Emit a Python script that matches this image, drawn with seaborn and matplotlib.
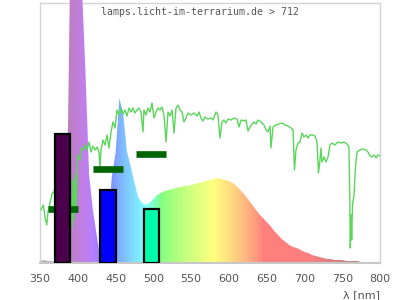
import numpy as np
import pandas as pd
import matplotlib
matplotlib.use("Agg")
import matplotlib.pyplot as plt
from matplotlib.patches import Polygon
import seaborn as sns

# ---------------- data (heights in arbitrary units, 0..263) ----------------
spec_nm = list(range(350, 801, 5))
spec_h = [2, 3, 2, 2, 1, 1, 2, 20, 300, 300,
          300, 285, 195, 88, 53, 28, 3, 0, 30, 86,
          110, 165, 150, 112, 97, 80, 66, 60, 58, 60,
          64, 68, 70, 72, 73, 74, 75, 76, 77, 77,
          78, 79, 80, 81, 82, 83, 84, 85, 84, 83,
          82, 80, 77, 73, 69, 64, 59, 54, 49, 45,
          41, 37, 32, 28, 24, 21, 18, 16, 15, 13,
          11, 10, 8, 7, 6, 5, 4, 4, 3, 3,
          3, 2, 2, 2, 2, 1, 1, 1, 0, 0, 0]

ref_nm = [351.3, 354.4, 356.6, 358.9, 360.6, 363.2, 366.3, 368.5, 371, 379, 387,
          391, 392.4, 393.7, 395, 396.3, 397.6, 399, 400.3, 402.9, 404.3, 406.9,
          409.6, 412.2, 414.9, 417.5, 420.1, 422.8, 425.4, 428.1, 429.4, 430.7,
          433.4, 436, 438.7, 441.3, 444, 446.6, 449.3, 451.9, 454.6, 457.2, 459.9,
          462.5, 465.1, 467.8, 470.4, 473.1, 475.7, 478.4, 481, 483.7, 486.3,
          487.6, 490.3, 492.9, 495.6, 498.2, 500.9, 503.5, 506.2, 508.8, 511.5,
          514.1, 516.8, 519.4, 522, 524.7, 527.4, 530, 532.6, 535.3, 537.9,
          540.6, 543.2, 545.9, 549.9, 553.8, 557.8, 560.4, 563.1, 565.7, 568.4,
          572.4, 576.3, 579, 583, 585.6, 588.2, 590.9, 593.5, 596.2, 598.8,
          602.8, 606.8, 610.7, 613.4, 616, 620, 622.6, 625.3, 627.9, 630.6,
          633.2, 635.9, 638.5, 642.5, 646.5, 649.1, 651.8, 654.4, 655.7, 658.4,
          662.3, 666.3, 670.3, 674.3, 678.2, 682.2, 684.9, 686.8, 688.8, 691.5,
          694.1, 696.8, 699.4, 702.1, 704.7, 707.4, 711.3, 714, 716.6, 718.6,
          720.6, 722, 723.2, 725.9, 728.5, 731.2, 733.8, 736.5, 740.4, 744.4,
          748.4, 752.3, 756.3, 758.9, 760, 760.7, 761.6, 762.5, 763.6, 765.6,
          767.6, 769.6, 773.5, 777.5, 781.5, 784.1, 786.8, 789.4, 792.1, 794.7,
          797.4, 800]
ref_h = [53, 58, 46, 38, 51, 60, 70, 71, 78, 88, 85,
         63, 35, 83, 43, 88, 53, 98, 108, 103, 115, 113,
         118, 113, 121, 111, 117, 113, 116, 111, 95, 113,
         123, 118, 128, 115, 131, 141, 135, 153, 148, 155, 149,
         153, 147, 155, 151, 155, 150, 153, 155, 151, 131,
         153, 148, 155, 151, 160, 145, 151, 155, 153, 156,
         148, 121, 151, 147, 153, 130, 155, 158, 153, 151,
         141, 145, 150, 148, 150, 147, 151, 145, 142, 146,
         144, 145, 143, 151, 148, 125, 141, 143, 140, 144,
         143, 145, 144, 136, 143, 142, 143, 132, 136, 139,
         141, 139, 143, 141, 138, 133, 131, 137, 115, 136,
         138, 139, 140, 138, 137, 135, 133, 93, 113, 120,
         121, 130, 126, 128, 125, 128, 128, 127, 121, 90,
         103, 115, 101, 106, 101, 106, 118, 120, 118, 121,
         120, 121, 119, 116, 68, 15, 48, 23, 58, 68,
         96, 111, 113, 114, 113, 111, 107, 106, 108, 105,
         108, 107]

bar_lo = [370, 430, 488]
bar_hi = [390, 450, 508]
bar_h = [129.5, 73.5, 54.5]
bar_colors = ["#4a004a", "#0000ff", "#00ffaa"]

seg_lo = [360, 420, 477]
seg_hi = [400, 460, 517]
seg_h = [54.5, 94.5, 108.7]

xticks = [350, 400, 450, 500, 550, 600, 650, 700, 750, 800]
title = "lamps.licht-im-terrarium.de > 712"


def wl_color(w, gamma=0.8):
    if w < 380:
        return (0.73, 0.70, 0.72)
    if w < 440:
        r, g, b = -(w - 440) / 60, 0.0, 1.0
    elif w < 490:
        r, g, b = 0.0, (w - 440) / 50, 1.0
    elif w < 510:
        r, g, b = 0.0, 1.0, -(w - 510) / 20
    elif w < 580:
        r, g, b = (w - 510) / 70, 1.0, 0.0
    elif w < 645:
        r, g, b = 1.0, -(w - 645) / 65, 0.0
    else:
        r, g, b = 1.0, 0.0, 0.0
    if w < 420:
        f = 0.3 + 0.7 * (w - 380) / 40
    elif w <= 700:
        f = 1.0
    else:
        f = max(0.3, 0.3 + 0.7 * (780 - w) / 80)
    c = [(v * f) ** gamma if v > 0 else 0.0 for v in (r, g, b)]
    return tuple(0.5 + 0.5 * v for v in c)


# ---------------- figure ----------------
sns.set_style("white")
plt.rcParams["font.family"] = ["DejaVu Sans"]

fig = plt.figure(figsize=(4, 3), dpi=100)
ax = fig.add_axes([40 / 400, 37 / 300, 340 / 400, 263 / 300])
ax.set_xlim(350, 800)
ax.set_ylim(0, 263)

# coloured spectrum (gradient image clipped to spectrum outline)
wl = np.arange(350, 800.01, 0.5)
img = np.array([[wl_color(w) for w in wl]])
im = ax.imshow(img, extent=[350, 800, 0, 263], aspect="auto",
               origin="lower", zorder=1, interpolation="nearest")
poly = Polygon(list(zip([350] + spec_nm + [800], [0] + spec_h + [0])),
               closed=True, transform=ax.transData)
im.set_clip_path(poly)

# frame
ax.axhline(260, color="#d4d4d4", lw=1, zorder=0.5)
for s in ["left", "right"]:
    ax.spines[s].set_color("#d4d4d4")
    ax.spines[s].set_linewidth(1)
    ax.spines[s].set_bounds(0, 260)
ax.spines["top"].set_visible(False)
ax.spines["bottom"].set_color("#c8c8c8")
ax.spines["bottom"].set_linewidth(1.5)

# reference line
df = pd.DataFrame({"nm": ref_nm, "h": ref_h})
sns.lineplot(data=df, x="nm", y="h", color="#5ad65a", lw=1.0, ax=ax,
             zorder=3, errorbar=None)

# dark green segments
ax.hlines(seg_h, seg_lo, seg_hi, colors="#006400", lw=4.8, zorder=4,
          capstyle="butt")

# bars
centers = [(a + b) / 2 for a, b in zip(bar_lo, bar_hi)]
widths = [b - a for a, b in zip(bar_lo, bar_hi)]
ax.bar(centers, bar_h, width=widths, color=bar_colors, edgecolor="black",
       linewidth=1.6, zorder=5)

ax.set_xticks(xticks)
ax.set_xticklabels([str(t) for t in xticks])
ax.set_yticks([])
ax.tick_params(axis="x", length=0, pad=8, labelsize=8, labelcolor="#555555")
ax.set_xlabel("")
ax.set_ylabel("")

fig.text(0.5, 1 - 15 / 300, title, ha="center", va="baseline",
         family="DejaVu Sans Mono", fontsize=7.1, color="#555555")
fig.text(380 / 400, 1 - 295 / 300, "λ [nm]", ha="right", va="center",
         fontsize=8, color="#555555")

fig.savefig("out.png", dpi=100)
